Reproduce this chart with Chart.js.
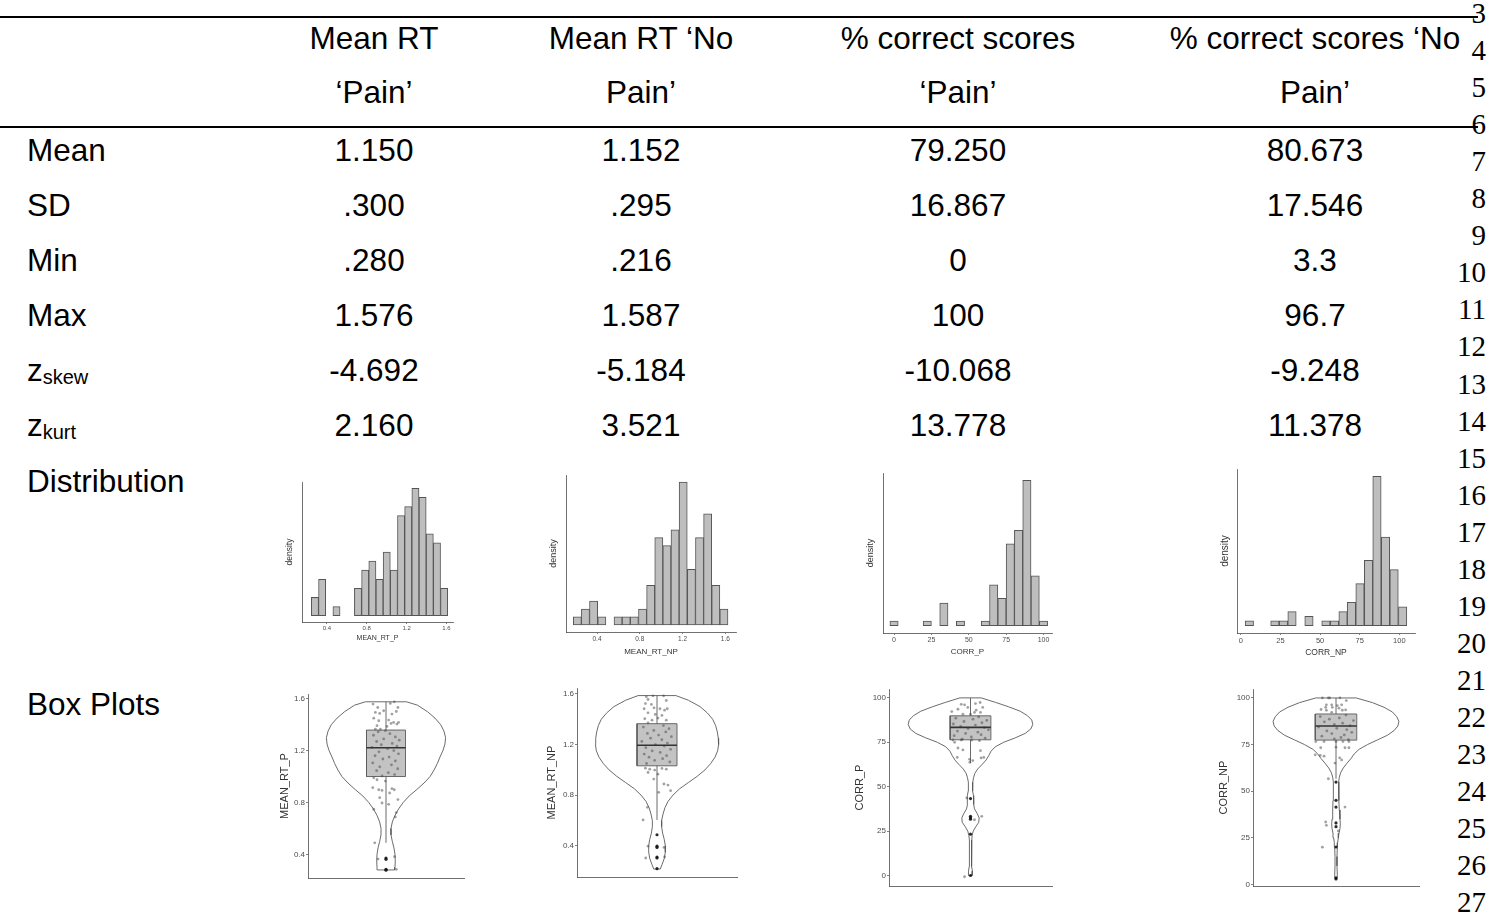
<!DOCTYPE html>
<html lang="en">
<head>
<meta charset="UTF-8">
<title>Descriptive statistics</title>
<script src="https://cdn.jsdelivr.net/npm/chart.js"></script>
<style>
  html, body { margin: 0; padding: 0; background: #fff; }
  body { width: 1490px; height: 915px; position: relative; overflow: hidden;
         font-family: "Liberation Sans", Arial, sans-serif; color: #000; }
  .t { position: absolute; font-size: 31.5px; line-height: 32px; white-space: nowrap; }
  .c { text-align: center; width: 400px; }
  .ln { position: absolute; right: 4px; font-family: "Liberation Serif", "Times New Roman", serif;
        font-size: 29px; line-height: 30px; }
  .rule { position: absolute; left: 0; width: 1478px; height: 1.5px; background: #000; }
  sub { font-size: 20px; vertical-align: -3px; line-height: 0; }
  canvas { position: absolute; }
</style>
</head>
<body>
<div class="rule" style="top:16px"></div>
<div class="rule" style="top:126px"></div>
<script>
// ---- table text ----
const colHeads = [
  ['Mean RT', '‘Pain’'],
  ['Mean RT ‘No', 'Pain’'],
  ['% correct scores', '‘Pain’'],
  ['% correct scores ‘No', 'Pain’']
];
const rowLabels = ['Mean', 'SD', 'Min', 'Max', 'z<sub>skew</sub>', 'z<sub>kurt</sub>', 'Distribution', 'Box Plots'];
const statValues = [
  ['1.150', '1.152', '79.250', '80.673'],
  ['.300', '.295', '16.867', '17.546'],
  ['.280', '.216', '0', '3.3'],
  ['1.576', '1.587', '100', '96.7'],
  ['-4.692', '-5.184', '-10.068', '-9.248'],
  ['2.160', '3.521', '13.778', '11.378']
];

// ---- histograms: bin centres and counts ----
const rtPBins = [0.280, 0.352, 0.424, 0.496, 0.568, 0.640, 0.712, 0.784, 0.856, 0.928, 1.000, 1.072, 1.144, 1.216, 1.288, 1.360, 1.432, 1.504, 1.576];
const rtPCounts = [2, 4, 0, 1, 0, 0, 3, 5, 6, 4, 7, 5, 11, 12, 14, 13, 9, 8, 3];
const rtNPBins = [0.216, 0.292, 0.368, 0.445, 0.521, 0.597, 0.673, 0.749, 0.826, 0.902, 0.978, 1.054, 1.130, 1.206, 1.283, 1.359, 1.435, 1.511, 1.587];
const rtNPCounts = [1, 2, 3, 1, 0, 1, 1, 1, 2, 5, 11, 10, 12, 18, 7, 11, 14, 5, 2];
const corrPBins = [0, 5.56, 11.11, 16.67, 22.22, 27.78, 33.33, 38.89, 44.44, 50, 55.56, 61.11, 66.67, 72.22, 77.78, 83.33, 88.89, 94.44, 100];
const corrPCounts = [1, 0, 0, 0, 1, 0, 5, 0, 1, 0, 0, 1, 9, 6, 18, 21, 32, 11, 1];
const corrNPBins = [5.4, 10.8, 16.1, 21.5, 26.9, 32.3, 37.6, 43.0, 48.4, 53.7, 59.1, 64.5, 69.8, 75.2, 80.6, 85.9, 91.3, 96.7, 102.1];
const corrNPCounts = [1, 0, 0, 1, 1, 3, 0, 2, 0, 1, 1, 3, 5, 9, 14, 32, 19, 12, 4];

const rtTicks = [0.4, 0.8, 1.2, 1.6];
const rtTickLabels = ['0.4', '0.8', '1.2', '1.6'];
const corrTicks = [0, 25, 50, 75, 100];
const corrTickLabels = ['0', '25', '50', '75', '100'];

// ---- violins: outline (value, half width) ----
const rtPViolinY = [1.576, 1.55, 1.5, 1.45, 1.4, 1.35, 1.3, 1.25, 1.2, 1.15, 1.1, 1.05, 1.0, 0.95, 0.9, 0.85, 0.8, 0.75, 0.7, 0.65, 0.6, 0.55, 0.5, 0.45, 0.4, 0.35, 0.3, 0.28];
const rtPViolinW = [0.263, 0.403, 0.531, 0.628, 0.701, 0.743, 0.764, 0.756, 0.730, 0.692, 0.658, 0.616, 0.565, 0.488, 0.395, 0.297, 0.221, 0.161, 0.115, 0.081, 0.064, 0.064, 0.081, 0.102, 0.115, 0.119, 0.115, 0.110];
const rtNPViolinY = [1.587, 1.55, 1.5, 1.45, 1.4, 1.35, 1.3, 1.25, 1.2, 1.15, 1.1, 1.05, 1.0, 0.95, 0.9, 0.85, 0.8, 0.75, 0.7, 0.65, 0.6, 0.55, 0.5, 0.45, 0.4, 0.35, 0.3, 0.25, 0.216];
const rtNPViolinW = [0.236, 0.393, 0.538, 0.629, 0.696, 0.733, 0.754, 0.766, 0.770, 0.758, 0.725, 0.671, 0.600, 0.505, 0.393, 0.282, 0.199, 0.137, 0.099, 0.075, 0.058, 0.058, 0.070, 0.091, 0.104, 0.104, 0.091, 0.062, 0.041];
const corrPViolinY = [100, 97.5, 95, 92.5, 90, 87.5, 85, 82.5, 80, 77.5, 75, 72.5, 70, 67.5, 65, 62.5, 60, 57.5, 55, 52.5, 50, 47.5, 45, 42.5, 40, 37.5, 35, 32.5, 30, 27.5, 25, 22.5, 20, 15, 10, 5, 2.5, 0];
const corrPViolinW = [0.130, 0.305, 0.467, 0.610, 0.699, 0.752, 0.764, 0.740, 0.671, 0.549, 0.407, 0.305, 0.252, 0.224, 0.191, 0.142, 0.089, 0.053, 0.037, 0.028, 0.024, 0.028, 0.037, 0.041, 0.037, 0.049, 0.081, 0.106, 0.102, 0.065, 0.033, 0.020, 0.016, 0.012, 0.012, 0.016, 0.024, 0.020];
const corrNPViolinY = [100, 97.5, 95, 92.5, 90, 87.5, 85, 82.5, 80, 77.5, 75, 72.5, 70, 67.5, 65, 62.5, 60, 57.5, 55, 50, 45, 40, 35, 32.5, 30, 27.5, 25, 22.5, 20, 15, 10, 5, 3.3];
const corrNPViolinW = [0.244, 0.439, 0.579, 0.679, 0.731, 0.758, 0.746, 0.699, 0.619, 0.499, 0.379, 0.279, 0.220, 0.180, 0.132, 0.088, 0.056, 0.040, 0.032, 0.032, 0.036, 0.040, 0.048, 0.052, 0.048, 0.036, 0.028, 0.020, 0.016, 0.012, 0.012, 0.016, 0.012];

// box stats: lower whisker, q1, median, q3, upper whisker
const rtPBox = [0.489, 1.0, 1.222, 1.358, 1.576];
const rtNPBox = [0.604, 1.032, 1.194, 1.365, 1.587];
const corrPBox = [63.3, 76.4, 83.4, 89.9, 100];
const corrNPBox = [56.7, 77.4, 85.0, 91.4, 100];

// outliers (drawn on the centre line)
const rtPOut = [0.372, 0.362, 0.285, 0.278];
const rtNPOut = [0.487, 0.397, 0.387, 0.311, 0.303, 0.219];
const corrPOut = [43.3, 33.3, 32.5, 31.7, 23.3, 0];
const corrNPOut = [54.9, 45.1, 41.5, 33.0, 31.0, 20.1, 3.6, 3.0];

// jittered raw points: value and horizontal offset
const rtPPtsY = [1.558, 1.532, 1.563, 1.576, 1.532, 1.494, 1.486, 1.507, 1.481, 1.501, 1.450, 1.430, 1.435, 1.417, 1.417, 1.392, 1.386, 1.409, 1.404, 1.366, 1.366, 1.353,
  1.345, 1.33, 1.318, 1.305, 1.29, 1.28, 1.27, 1.255, 1.245, 1.235, 1.225, 1.215, 1.2, 1.19, 1.175, 1.16, 1.15, 1.135, 1.12, 1.105, 1.09, 1.075, 1.06, 1.045, 1.03, 1.015, 1.005,
  0.990, 0.975, 0.965, 0.914, 0.898, 0.893, 0.906, 0.898, 0.873, 0.837, 0.796, 0.786, 0.822, 0.748, 0.722, 0.689, 0.489, 0.364, 0.382, 0.285];
const rtPPtsX = [-0.166, -0.106, 0.055, 0.106, 0.153, -0.136, -0.081, -0.030, 0.076, 0.132, -0.157, -0.093, 0.034, 0.098, 0.161, -0.115, 0.013, 0.064, 0.140, -0.072, -0.136, -0.008,
  -0.10, 0.05, -0.16, 0.12, -0.03, 0.17, -0.12, 0.08, -0.06, 0.14, -0.18, 0.02, 0.10, -0.09, 0.16, -0.14, 0.04, -0.04, 0.12, -0.17, 0.07, -0.08, 0.15, -0.12, 0.03, 0.11, -0.05,
  -0.157, -0.115, -0.008, -0.170, -0.093, -0.051, 0.076, 0.106, 0.047, -0.081, -0.051, 0.034, 0.153, -0.157, 0.132, 0.119, -0.144, -0.102, 0.110, 0.132];

const rtNPPtsY = [1.577, 1.585, 1.585, 1.556, 1.548, 1.524, 1.517, 1.483, 1.490, 1.483, 1.472, 1.483, 1.451, 1.438, 1.430, 1.404, 1.393, 1.409, 1.393, 1.372,
  1.350, 1.338, 1.325, 1.312, 1.300, 1.288, 1.275, 1.262, 1.250, 1.238, 1.225, 1.212, 1.200, 1.188, 1.175, 1.162, 1.150, 1.138, 1.125, 1.112, 1.100, 1.088, 1.075, 1.062, 1.050,
  1.013, 1.005, 0.998, 1.011, 1.005, 0.979, 0.966, 0.927, 0.888, 0.880, 0.822, 0.835, 0.704, 0.604, 0.303, 0.311, 0.397, 0.387];
const rtNPPtsX = [-0.133, -0.050, 0.083, -0.112, 0.116, -0.145, -0.070, -0.161, -0.037, 0.037, 0.095, 0.128, -0.112, -0.021, 0.062, -0.153, -0.062, 0.012, 0.116, -0.112,
  0.08, -0.17, 0.15, -0.04, 0.11, -0.12, 0.02, 0.18, -0.08, 0.06, -0.19, 0.13, -0.02, 0.09, -0.14, 0.17, -0.06, 0.04, -0.16, 0.12, -0.10, 0.07, -0.03, 0.16, -0.13,
  -0.145, -0.091, -0.029, 0.062, 0.116, -0.112, 0.012, -0.041, 0.087, 0.137, 0.021, 0.170, -0.120, -0.174, -0.141, 0.095, -0.112, 0.087];

const corrPPtsY = [96.4, 96.1, 96.8, 97.4, 93.6, 94.6, 93.1, 94.6, 92.3, 91.8, 91.8, 90.8, 90.8,
  89.3, 88.6, 88.0, 87.3, 86.7, 86.0, 85.3, 84.7, 84.0, 83.3, 82.7, 82.0, 81.3, 80.7, 80.0, 79.3, 78.7, 78.0, 77.3, 76.7,
  76.3, 76.3, 76.3, 75.9, 75.0, 71.8, 70.7, 70.3, 66.5, 66.2, 66.5, 65.4, 64.7, 63.7, 43.7, 31.4, 33.3, -0.7];
const corrPPtsX = [-0.114, -0.073, 0.061, 0.118, -0.154, -0.033, 0.069, 0.150, -0.230, 0.049, 0.122, 0.000, -0.093,
  0.10, -0.18, 0.03, 0.20, -0.08, 0.14, -0.21, 0.06, -0.12, 0.17, -0.03, 0.22, -0.16, 0.09, -0.06, 0.13, -0.20, 0.01, 0.18, -0.10,
  -0.215, -0.114, 0.016, 0.110, -0.195, -0.154, -0.093, 0.122, -0.163, 0.130, 0.163, -0.012, 0.028, -0.008, -0.045, 0.049, 0.138, -0.073];

const corrNPPtsY = [100, 100, 100, 100, 98.6, 96.3, 96.3, 95.9, 96.3, 95.0, 95.0, 94.5, 93.8, 93.4, 93.4, 93.6, 92.3,
  90.8, 90.0, 89.3, 88.6, 87.9, 87.2, 86.5, 85.8, 85.1, 84.4, 83.7, 83.0, 82.3, 81.6, 80.9, 80.2, 79.5, 78.8, 78.1, 77.6,
  76.6, 76.6, 76.6, 76.6, 76.6, 73.3, 73.6, 73.3, 73.3, 69.5, 69.2, 68.8, 67.9, 66.8, 65.1, 56.7, 41.5, 33.5, 31.7, 28.7, 20.0];
const corrNPPtsX = [-0.164, -0.092, -0.076, 0.048, 0.124, -0.116, -0.052, 0.016, 0.068, -0.124, -0.044, 0.036, -0.180, -0.116, 0.076, 0.116, -0.052,
  0.12, -0.19, 0.04, -0.08, 0.21, -0.14, 0.08, -0.02, 0.17, -0.21, 0.01, 0.13, -0.11, 0.19, -0.05, 0.10, -0.17, 0.06, -0.02, 0.15,
  -0.244, -0.144, 0.000, 0.084, 0.156, -0.184, 0.000, 0.108, 0.156, -0.250, -0.190, -0.144, 0.044, 0.068, -0.012, -0.092, 0.108, -0.124, -0.116, 0.028, -0.164];

// ---- page layout ----
const colCentres = [374, 641, 958, 1315];
const headRows = [38, 92];
const rowCentres = [150, 205, 260, 315, 370, 425, 481, 704];

function addText(html, cls, x, cy) {
  const d = document.createElement('div');
  d.className = cls;
  d.innerHTML = html;
  d.style.top = (cy - 15.6) + 'px';
  d.style.left = (cls.includes('c') ? x - 200 : x) + 'px';
  document.body.appendChild(d);
}
colHeads.forEach((h, c) => h.forEach((txt, r) => addText(txt, 't c', colCentres[c], headRows[r])));
rowLabels.forEach((lab, r) => addText(lab, 't', 27, rowCentres[r]));
statValues.forEach((row, r) => row.forEach((v, c) => addText(v, 't c', colCentres[c], rowCentres[r])));
for (let n = 3; n <= 27; n++) {
  const d = document.createElement('div');
  d.className = 'ln';
  d.textContent = n;
  d.style.top = (13 + (n - 3) * 37.05 - 15) + 'px';
  document.body.appendChild(d);
}

// ---- charts ----
const FONT = '"Liberation Sans", Arial, sans-serif';
const AXIS = '#4d4d4d';
const PAD_T = 3, PAD_R = 3;
const BOX_HALF = 0.25;

function place(b) {
  const c = document.createElement('canvas');
  const w = b.R - b.L + b.yW + PAD_R;
  const h = b.B - b.T + PAD_T + b.xH;
  c.width = w; c.height = h;
  c.style.left = (b.L - b.yW) + 'px';
  c.style.top = (b.T - PAD_T) + 'px';
  c.style.width = w + 'px';
  c.style.height = h + 'px';
  document.body.appendChild(c);
  return c;
}
const fixWidth = w => s => { s.width = w; s.paddingTop = 0; s.paddingBottom = 0; };
const fixHeight = h => s => { s.height = h; s.paddingLeft = 0; s.paddingRight = 0; };
const setTicks = vals => s => { s.ticks = vals.map(v => ({ value: v })); };
const baseOpts = {
  responsive: false, animation: false, devicePixelRatio: 1, events: [],
  layout: { padding: { top: PAD_T, right: PAD_R, left: 0, bottom: 0 } },
  plugins: { legend: { display: false }, tooltip: { enabled: false } }
};

function histogram(b, bins, counts, ticks, labels, title, f) {
  const top = Math.max(...counts);
  new Chart(place(b), {
    type: 'bar',
    data: {
      datasets: [{
        data: bins.map((x, i) => ({ x: x, y: counts[i] })),
        backgroundColor: '#bebebe', borderColor: '#555', borderWidth: 1,
        borderSkipped: false, barPercentage: 1, categoryPercentage: 1, grouped: false
      }]
    },
    options: {
      ...baseOpts,
      scales: {
        x: {
          type: 'linear', min: b.min, max: b.max, offset: false,
          afterBuildTicks: setTicks(ticks), afterFit: fixHeight(b.xH),
          grid: { display: true, drawOnChartArea: false, drawTicks: true, tickLength: 2, color: AXIS, lineWidth: 0.7, offset: false },
          border: { display: true, color: AXIS, width: 0.8 },
          ticks: { font: { size: f.tick, family: FONT }, color: '#4d4d4d', padding: 1, maxRotation: 0, autoSkip: false,
                   callback: (v, i) => labels[i] },
          title: { display: true, text: title, font: { size: f.title, family: FONT }, color: '#333', padding: 0 }
        },
        y: {
          min: -0.05 * top, max: 1.05 * top, afterFit: fixWidth(b.yW),
          grid: { display: false }, border: { display: true, color: AXIS, width: 0.8 },
          ticks: { display: false },
          title: { display: true, text: 'density', font: { size: f.y, family: FONT }, color: '#333', padding: 0 }
        }
      }
    }
  });
}

function violin(b, vy, vw, stats, outs, py, px, ticks, labels, title, f) {
  const [lo, q1, med, q3, hi] = stats;
  const outline = vy.map((y, i) => ({ x: vw[i], y: y }))
    .concat(vy.slice().reverse().map((y, i) => ({ x: -vw[vw.length - 1 - i], y: y })));
  outline.push(outline[0]);
  const line = (data, extra) => Object.assign({ data: data, showLine: true, pointRadius: 0, borderColor: '#5a5a5a', borderWidth: 0.9, fill: false }, extra);
  const datasets = [
    line(outline, { order: 6 }),
    line([{ x: 0, y: lo }, { x: 0, y: hi }], { order: 5 }),
    line([{ x: -BOX_HALF, y: q3 }, { x: BOX_HALF, y: q3 }], { order: 4, borderWidth: 0 }),
    line([{ x: -BOX_HALF, y: q1 }, { x: BOX_HALF, y: q1 }], { order: 3, borderWidth: 0, fill: 2, backgroundColor: '#c3c3c3' }),
    line([{ x: -BOX_HALF, y: q1 }, { x: BOX_HALF, y: q1 }, { x: BOX_HALF, y: q3 }, { x: -BOX_HALF, y: q3 }, { x: -BOX_HALF, y: q1 }], { order: 2 }),
    { data: py.map((y, i) => ({ x: px[i], y: y })), pointRadius: 1.4, pointBorderWidth: 0, pointBackgroundColor: 'rgba(70,70,70,0.5)', order: 1 },
    { data: outs.map(y => ({ x: 0, y: y })), pointRadius: 1.6, pointBorderWidth: 0, pointBackgroundColor: 'rgba(20,20,20,0.9)', order: 0 },
    line([{ x: -BOX_HALF, y: med }, { x: BOX_HALF, y: med }], { order: 0, borderColor: '#333', borderWidth: 1.6 })
  ];
  new Chart(place(b), {
    type: 'scatter',
    data: { datasets: datasets },
    options: {
      ...baseOpts,
      scales: {
        x: {
          type: 'linear', min: -1, max: 1, afterFit: fixHeight(b.xH),
          grid: { display: false }, ticks: { display: false },
          border: { display: true, color: AXIS, width: 0.8 }
        },
        y: {
          type: 'linear', min: b.min, max: b.max,
          afterBuildTicks: setTicks(ticks), afterFit: fixWidth(b.yW),
          grid: { display: true, drawOnChartArea: false, drawTicks: true, tickLength: 2, color: AXIS, lineWidth: 0.7 },
          border: { display: true, color: AXIS, width: 0.8 },
          ticks: { font: { size: f.tick, family: FONT }, color: '#4d4d4d', padding: 1, autoSkip: false,
                   callback: (v, i) => labels[i] },
          title: { display: true, text: title, font: { size: f.title, family: FONT }, color: '#333', padding: 0 }
        }
      }
    }
  });
}

histogram({ L: 302, T: 482, R: 453, B: 622, yW: 17, xH: 20, min: 0.15, max: 1.665 },
  rtPBins, rtPCounts, rtTicks, rtTickLabels, 'MEAN_RT_P', { tick: 6, title: 7, y: 8.5 });
histogram({ L: 566, T: 475, R: 736, B: 632, yW: 18, xH: 25, min: 0.11, max: 1.70 },
  rtNPBins, rtNPCounts, rtTicks, rtTickLabels, 'MEAN_RT_NP', { tick: 6.5, title: 8, y: 9 });
histogram({ L: 883, T: 473, R: 1052, B: 633, yW: 18, xH: 24, min: -7.4, max: 105.7 },
  corrPBins, corrPCounts, corrTicks, corrTickLabels, 'CORR_P', { tick: 7, title: 8, y: 9 });
histogram({ L: 1237, T: 469, R: 1415, B: 633, yW: 18, xH: 25, min: -2.4, max: 109.9 },
  corrNPBins, corrNPCounts, corrTicks, corrTickLabels, 'CORR_NP', { tick: 7.5, title: 8.5, y: 10 });

violin({ L: 308, T: 693, R: 465, B: 878, yW: 30, xH: 4, min: 0.218, max: 1.636 },
  rtPViolinY, rtPViolinW, rtPBox, rtPOut, rtPPtsY, rtPPtsX, rtTicks, rtTickLabels, 'MEAN_RT_P', { tick: 8, title: 11 });
violin({ L: 577, T: 687, R: 738, B: 877, yW: 32, xH: 4, min: 0.153, max: 1.647 },
  rtNPViolinY, rtNPViolinW, rtNPBox, rtNPOut, rtNPPtsY, rtNPPtsX, rtTicks, rtTickLabels, 'MEAN_RT_NP', { tick: 8, title: 11 });
violin({ L: 889, T: 688, R: 1053, B: 886, yW: 36, xH: 4, min: -5.9, max: 105 },
  corrPViolinY, corrPViolinW, corrPBox, corrPOut, corrPPtsY, corrPPtsX, corrTicks, corrTickLabels, 'CORR_P', { tick: 8, title: 11 });
violin({ L: 1253, T: 688, R: 1420, B: 886, yW: 36, xH: 4, min: -0.8, max: 104.8 },
  corrNPViolinY, corrNPViolinW, corrNPBox, corrNPOut, corrNPPtsY, corrNPPtsX, corrTicks, corrTickLabels, 'CORR_NP', { tick: 8, title: 11 });
</script>
</body>
</html>
